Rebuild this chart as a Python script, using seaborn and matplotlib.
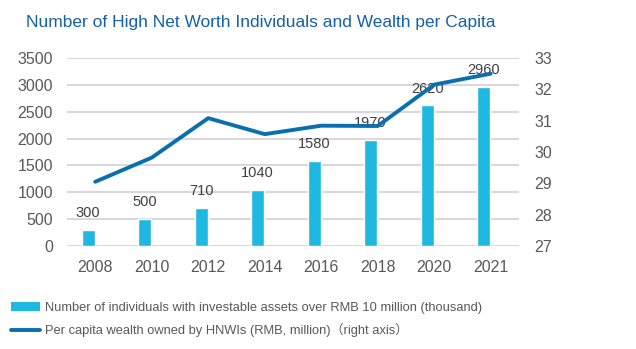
import numpy as np
import pandas as pd
import matplotlib
matplotlib.use("Agg")
import matplotlib.pyplot as plt
import seaborn as sns
from matplotlib.patches import Patch
from matplotlib.lines import Line2D

years = ["2008", "2010", "2012", "2014", "2016", "2018", "2020", "2021"]
hnwi_count = [300, 500, 710, 1040, 1580, 1970, 2620, 2960]
wealth_per_capita = [29.05, 29.82, 31.08, 30.57, 30.84, 30.83, 32.15, 32.5]

bar_label_name = "Number of individuals with investable assets over RMB 10 million (thousand)"
line_label_name = "Per capita wealth owned by HNWIs (RMB, million)\uff08right axis\uff09"
title = "Number of High Net Worth Individuals and Wealth per Capita"

sns.set_theme(style="white")
plt.rcParams["font.family"] = ["Liberation Sans", "Noto Sans CJK SC", "DejaVu Sans"]

bar_color = "#1fb8e0"
line_color = "#0a6fae"
text_color = "#595959"
grid_color = "#d9d9d9"

idx = np.arange(len(years))
df = pd.DataFrame({"pos": idx - 0.125, "count": hnwi_count,
                   "lpos": idx, "wealth": wealth_per_capita})

fig = plt.figure(figsize=(6.36, 3.49), dpi=100)
ax = fig.add_axes([0.1053, 0.2951, 0.7107, 0.5387])

sns.barplot(data=df, x="pos", y="count", native_scale=True, width=0.23,
            color=bar_color, saturation=1, ax=ax, zorder=2)
ax.bar_label(ax.containers[0], labels=[str(v) for v in hnwi_count],
             padding=7, fontsize=10.5, color="#404040")

ax.set_ylim(0, 3500)
ax.set_yticks(np.arange(0, 3501, 500))
ax.set_xlim(-0.5, len(years) - 0.5)
ax.set_xticks(idx)
ax.set_xticklabels(years)
ax.grid(axis="y", color=grid_color, linewidth=1.5, zorder=0)
ax.set_axisbelow(True)
ax.set_xlabel("")
ax.set_ylabel("")
for s in ax.spines.values():
    s.set_visible(False)
ax.tick_params(axis="both", length=0, labelsize=11.5, labelcolor=text_color)
ax.tick_params(axis="y", pad=10)
ax.tick_params(axis="x", pad=10)

ax2 = ax.twinx()
sns.lineplot(data=df, x="lpos", y="wealth", color=line_color, linewidth=2.8,
             ax=ax2, zorder=3)
ax2.set_ylim(27, 33)
ax2.set_yticks(np.arange(27, 34, 1))
ax2.set_xlim(-0.5, len(years) - 0.5)
ax2.set_xlabel("")
ax2.set_ylabel("")
for s in ax2.spines.values():
    s.set_visible(False)
ax2.tick_params(axis="y", length=0, labelsize=11.5, labelcolor=text_color, pad=11)
ax2.grid(False)

fig.text(0.41, 0.936, title, ha="center", va="center", fontsize=12.5,
         color="#1560a8")

handles = [Patch(facecolor=bar_color, edgecolor="none"),
           Line2D([0], [0], color=line_color, linewidth=2.8)]
fig.legend(handles, [bar_label_name, line_label_name], loc="upper left",
           bbox_to_anchor=(0.005, 0.157), frameon=False, fontsize=9.3,
           labelcolor=text_color, handlelength=2.25, handletextpad=0.4,
           labelspacing=0.72, borderaxespad=0.2)

fig.savefig("out.png", dpi=100)
